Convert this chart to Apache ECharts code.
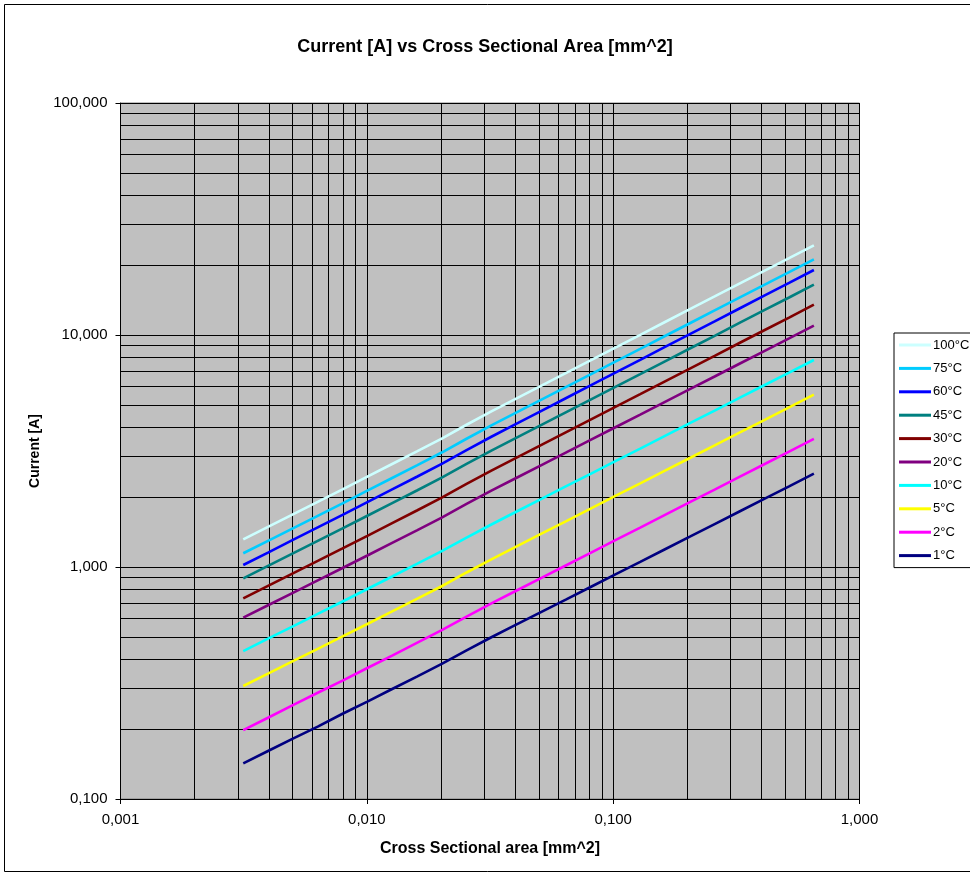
<!DOCTYPE html>
<html>
<head>
<meta charset="utf-8">
<title>Current vs Cross Sectional Area</title>
<script src="https://cdn.jsdelivr.net/npm/echarts@6/dist/echarts.min.js"></script>
<style>
  html, body { margin: 0; padding: 0; background: #ffffff; }
  #chart { width: 970px; height: 877px; }
</style>
</head>
<body>
<div id="chart"></div>
<script>
// Conductor cross sections [mm^2] (AWG 42 ... AWG 19)
const areas = [0.00315, 0.00397, 0.00501, 0.00632, 0.00797, 0.01005, 0.01267, 0.01597,
  0.02014, 0.02540, 0.03203, 0.04038, 0.05092, 0.06422, 0.08098, 0.1021,
  0.1288, 0.1624, 0.2048, 0.2582, 0.3256, 0.4106, 0.5178, 0.6529];

// Allowed current [A] for each temperature rise
const current100 = [1.316, 1.490, 1.687, 1.909, 2.161, 2.451, 2.780, 3.152, 3.578, 4.103, 4.682, 5.315, 6.034, 6.850, 7.776, 8.829, 10.02, 11.38, 12.92, 14.66, 16.65, 18.90, 21.45, 24.36];
const current75 = [1.146, 1.297, 1.468, 1.662, 1.881, 2.133, 2.419, 2.743, 3.115, 3.571, 4.075, 4.626, 5.251, 5.961, 6.767, 7.684, 8.720, 9.904, 11.24, 12.76, 14.49, 16.45, 18.67, 21.20];
const current60 = [1.020, 1.154, 1.308, 1.481, 1.677, 1.903, 2.159, 2.449, 2.782, 3.192, 3.643, 4.137, 4.699, 5.337, 6.061, 6.885, 7.817, 8.882, 10.09, 11.45, 13.01, 14.78, 16.78, 19.06];
const current45 = [0.893, 1.011, 1.145, 1.296, 1.467, 1.663, 1.885, 2.137, 2.426, 2.782, 3.174, 3.602, 4.088, 4.640, 5.267, 5.979, 6.785, 7.704, 8.746, 9.922, 11.27, 12.79, 14.51, 16.48];
const current30 = [0.732, 0.829, 0.939, 1.062, 1.202, 1.362, 1.545, 1.752, 1.989, 2.281, 2.601, 2.953, 3.351, 3.804, 4.317, 4.901, 5.561, 6.315, 7.169, 8.133, 9.236, 10.48, 11.89, 13.51];
const current20 = [0.605, 0.684, 0.773, 0.875, 0.990, 1.121, 1.271, 1.439, 1.633, 1.871, 2.133, 2.419, 2.744, 3.112, 3.530, 4.004, 4.540, 5.153, 5.845, 6.626, 7.519, 8.528, 9.670, 10.97];
const current10 = [0.434, 0.491, 0.555, 0.628, 0.710, 0.804, 0.910, 1.031, 1.170, 1.338, 1.525, 1.730, 1.961, 2.224, 2.521, 2.858, 3.240, 3.675, 4.167, 4.722, 5.356, 6.071, 6.881, 7.805];
const current5 = [0.307, 0.347, 0.393, 0.444, 0.502, 0.568, 0.644, 0.729, 0.826, 0.947, 1.079, 1.224, 1.388, 1.573, 1.784, 2.024, 2.294, 2.602, 2.950, 3.344, 3.793, 4.300, 4.876, 5.530];
const current2 = [0.198, 0.224, 0.254, 0.287, 0.324, 0.367, 0.415, 0.471, 0.534, 0.611, 0.697, 0.790, 0.895, 1.015, 1.151, 1.305, 1.479, 1.678, 1.903, 2.156, 2.446, 2.772, 3.142, 3.564];
const current1 = [0.1425, 0.161, 0.182, 0.205, 0.233, 0.263, 0.298, 0.337, 0.382, 0.437, 0.498, 0.564, 0.639, 0.723, 0.820, 0.929, 1.052, 1.193, 1.351, 1.531, 1.735, 1.966, 2.227, 2.524];

const seriesNames = ['100°C', '75°C', '60°C', '45°C', '30°C', '20°C', '10°C', '5°C', '2°C', '1°C'];
const seriesColors = ['#CCFFFF', '#00CCFF', '#0000FF', '#008080', '#800000', '#800080', '#00FFFF', '#FFFF00', '#FF00FF', '#000080'];
const seriesValues = [current100, current75, current60, current45, current30, current20, current10, current5, current2, current1];

// Axis ranges and minor grid positions (2..9 within each decade)
const xRange = [0.001, 1];
const yRange = [0.1, 100];
const xMinorTicks = [0.002, 0.003, 0.004, 0.005, 0.006, 0.007, 0.008, 0.009,
  0.02, 0.03, 0.04, 0.05, 0.06, 0.07, 0.08, 0.09,
  0.2, 0.3, 0.4, 0.5, 0.6, 0.7, 0.8, 0.9];
const yMinorTicks = [0.2, 0.3, 0.4, 0.5, 0.6, 0.7, 0.8, 0.9,
  2, 3, 4, 5, 6, 7, 8, 9,
  20, 30, 40, 50, 60, 70, 80, 90];

const FONT = "'Liberation Sans', Arial, sans-serif";
const fmt = v => Number(v).toFixed(3).replace('.', ',');

const chart = echarts.init(document.getElementById('chart'), null, { renderer: 'canvas' });

// Minor grid drawn as plain segments in data coordinates
const minorGrid = {
  name: 'minor-grid',
  type: 'lines',
  coordinateSystem: 'cartesian2d',
  silent: true,
  z: 1,
  lineStyle: { color: '#000000', width: 1, opacity: 1 },
  data: xMinorTicks.map(v => ({ coords: [[v, yRange[0]], [v, yRange[1]]] }))
    .concat(yMinorTicks.map(v => ({ coords: [[xRange[0], v], [xRange[1], v]] })))
};

const lineSeries = seriesNames.map((name, i) => ({
  name: name,
  type: 'line',
  z: 3,
  showSymbol: false,
  symbol: 'none',
  smooth: false,
  color: seriesColors[i],
  lineStyle: { color: seriesColors[i], width: 2.6 },
  emphasis: { disabled: true },
  data: areas.map((a, k) => [a, seriesValues[i][k]])
}));

chart.setOption({
  animation: false,
  backgroundColor: '#ffffff',
  textStyle: { fontFamily: FONT },
  title: {
    text: 'Current [A] vs Cross Sectional Area [mm^2]',
    left: 'center',
    top: 33,
    textStyle: { fontFamily: FONT, fontSize: 18, fontWeight: 'bold', color: '#000' }
  },
  legend: {
    orient: 'vertical',
    left: 894,
    top: 333,
    padding: [5, 40, 5, 5],
    itemWidth: 32,
    itemHeight: 3,
    itemGap: 9.4,
    icon: 'rect',
    borderColor: '#000',
    borderWidth: 1,
    backgroundColor: '#ffffff',
    data: seriesNames,
    textStyle: { fontFamily: FONT, fontSize: 13, color: '#000', lineHeight: 14, padding: [0, 0, 0, -3] }
  },
  grid: {
    left: 120.5,
    right: 110.5,
    top: 103,
    bottom: 78,
    show: true,
    backgroundColor: '#C0C0C0',
    borderColor: '#808080',
    borderWidth: 1,
    containLabel: false
  },
  xAxis: {
    type: 'log',
    logBase: 10,
    min: xRange[0],
    max: xRange[1],
    name: 'Cross Sectional area [mm^2]',
    nameLocation: 'middle',
    nameGap: 42,
    nameTextStyle: { fontFamily: FONT, fontSize: 16, fontWeight: 'bold', color: '#000' },
    axisLine: { show: true, onZero: false, lineStyle: { color: '#000', width: 1 } },
    axisTick: { show: true, inside: false, length: 5, lineStyle: { color: '#000' } },
    axisLabel: { formatter: fmt, fontFamily: FONT, fontSize: 15, color: '#000', margin: 13 },
    splitLine: { show: true, lineStyle: { color: '#000', width: 1 } },
    minorTick: { show: false },
    minorSplitLine: { show: false }
  },
  yAxis: {
    type: 'log',
    logBase: 10,
    min: yRange[0],
    max: yRange[1],
    name: 'Current [A]',
    nameLocation: 'middle',
    nameGap: 78,
    nameRotate: 90,
    nameTextStyle: { fontFamily: FONT, fontSize: 14, fontWeight: 'bold', color: '#000' },
    axisLine: { show: true, onZero: false, lineStyle: { color: '#000', width: 1 } },
    axisTick: { show: true, inside: false, length: 5, lineStyle: { color: '#000' } },
    axisLabel: { formatter: fmt, fontFamily: FONT, fontSize: 15, color: '#000', margin: 13 },
    splitLine: { show: true, lineStyle: { color: '#000', width: 1 } },
    minorTick: { show: false },
    minorSplitLine: { show: false }
  },
  graphic: [{
    type: 'rect',
    silent: true,
    z: 100,
    shape: { x: 4.5, y: 4.5, width: 1000, height: 867 },
    style: { fill: null, stroke: '#000', lineWidth: 1 }
  }],
  series: [minorGrid].concat(lineSeries)
});
</script>
</body>
</html>
